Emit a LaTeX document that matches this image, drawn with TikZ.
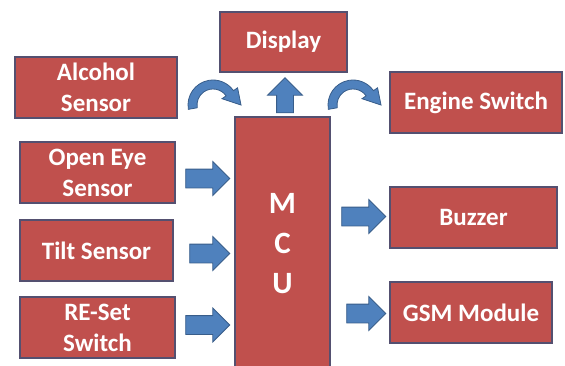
\documentclass[tikz,border=0pt]{standalone}
\usepackage{fontspec}
\setmainfont{Carlito}
\usetikzlibrary{shapes.arrows,calc}

\definecolor{boxred}{RGB}{192,80,77}
\definecolor{boxline}{RGB}{84,80,112}
\definecolor{arrblue}{RGB}{79,129,189}
\definecolor{arrline}{RGB}{56,93,138}

\tikzset{
  blk/.style={draw=boxline, fill=boxred, line width=1.2pt, text=white,
    font=\bfseries\fontsize{25}{31}\selectfont, align=center, inner sep=0pt,
    minimum height=61pt},
  barrow/.style={single arrow, draw=arrline, fill=arrblue, line width=0.8pt,
    minimum height=44pt, single arrow head extend=7.5pt,
    inner xsep=0pt, inner ysep=9pt},
  carrow/.style={draw=arrline, fill=arrblue, line width=0.8pt}
}

\begin{document}
\begin{tikzpicture}[x=1pt,y=1pt]
\useasboundingbox (0,0) rectangle (565,365);

% blocks
\node[blk, minimum width=95pt, minimum height=253pt,
      font=\bfseries\fontsize{31}{40}\selectfont] (mcu) at (282.5,121.5) {M\\C\\U};
\node[blk, minimum width=127pt, minimum height=60pt] (disp) at (283.5,323) {Display};
\node[blk, minimum width=162pt] (alc) at (96,277.5) {Alcohol\\Sensor};
\node[blk, minimum width=155pt] (eye) at (97.5,192.5) {Open Eye\\Sensor};
\node[blk, minimum width=153pt] (tilt) at (96.5,114.5) {Tilt Sensor};
\node[blk, minimum width=155pt] (rst) at (97.5,37.5) {RE-Set\\Switch};
\node[blk, minimum width=172pt] (eng) at (476,262.5) {Engine Switch};
\node[blk, minimum width=167pt] (buz) at (473.5,147.5) {Buzzer};
\node[blk, minimum width=162pt] (gsm) at (471,52.5) {GSM Module};

% block arrows
\node[barrow] (eyearr) at ($(eye.east)!0.5!(mcu.west |- eye.east)+(-2,-6)$) {};
\node[barrow, minimum height=40pt] (tiltarr) at ($(tilt.east)!0.5!(mcu.west |- tilt.east)+(1,-3)$) {};
\node[barrow] (rstarr) at ($(rst.east)!0.5!(mcu.west |- rst.east)+(-2,2.5)$) {};
\node[barrow] (buzarr) at ($(mcu.east |- buz.west)!0.5!(buz.west)+(-1,1)$) {};
\node[barrow, minimum height=39pt] (gsmarr) at ($(mcu.east |- gsm.west)!0.5!(gsm.west)+(1.5,-1)$) {};
\node[barrow, minimum height=35pt, inner ysep=8pt, single arrow head extend=9pt,
      rotate=90] (disparr) at ($(mcu.north)!0.5!(disp.south)+(2,-5)$) {};

% curved arrows
\coordinate (lc) at (213,260);
\coordinate (rc) at (353,260);

\foreach \c in {lc,rc}
    \filldraw[carrow] (\c) ++(190:25) arc[start angle=190, end angle=35, radius=25]
        -- ($(\c)+(35:30)$) -- ($(\c)+(28,0)$) -- ($(\c)+(35:11)$)
        -- ($(\c)+(35:16)$) arc[start angle=35, end angle=190, radius=16] -- cycle;

\end{tikzpicture}
\end{document}
